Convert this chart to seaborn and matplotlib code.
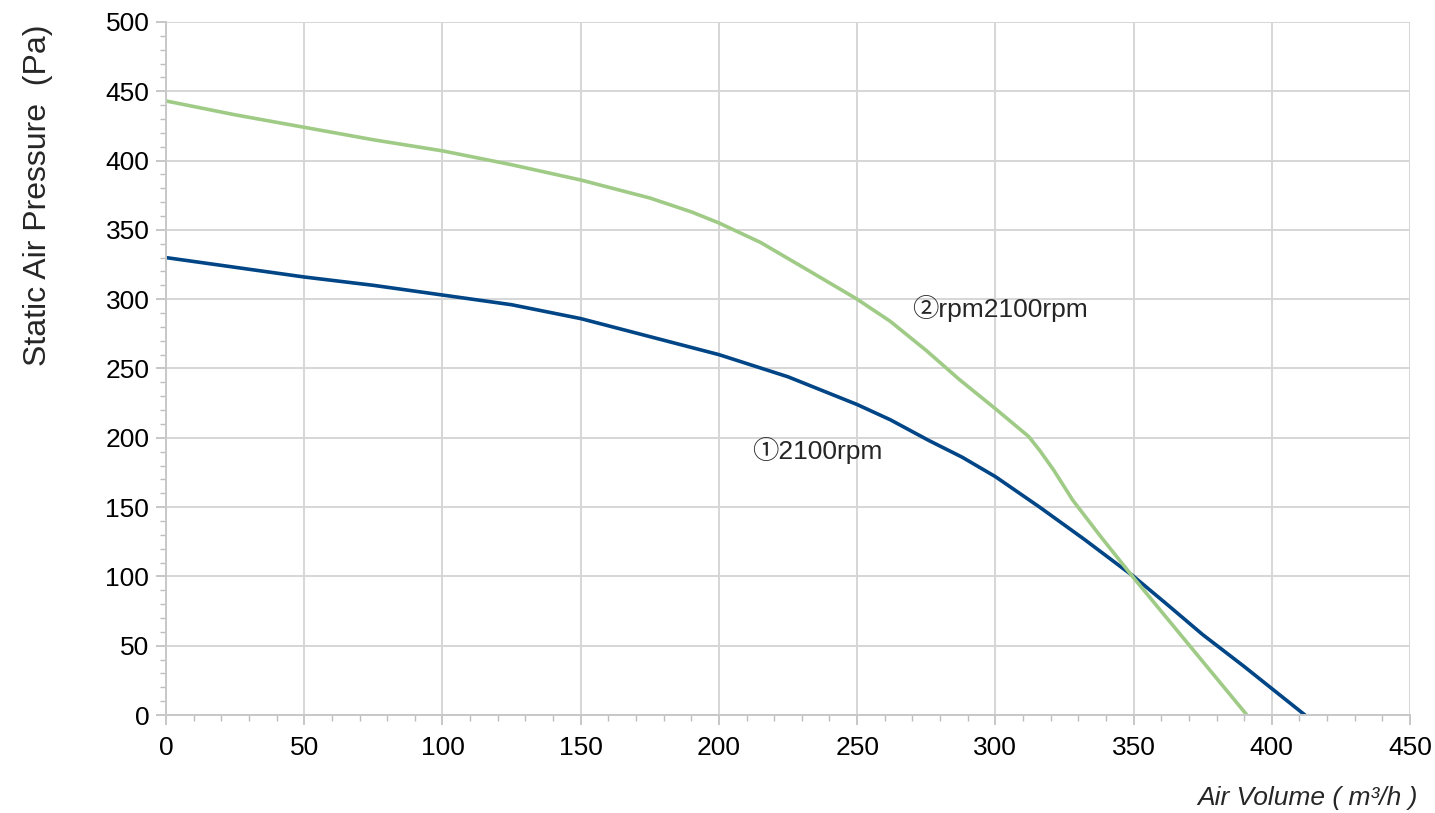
import pandas as pd
import matplotlib.pyplot as plt
from matplotlib.ticker import MultipleLocator
import seaborn as sns

# curve values
air_volume_1 = [0, 25, 50, 75, 100, 125, 150, 175, 200, 225, 250, 262, 276, 288,
                300, 316, 332, 350, 362, 375, 390, 412]
pressure_1 = [330, 323, 316, 310, 303, 296, 286, 273, 260, 244, 224, 213, 198, 186,
              172, 150, 127, 100, 80, 58, 35, 0]

air_volume_2 = [0, 25, 50, 75, 100, 125, 150, 175, 190, 200, 215, 233, 250, 262, 275, 287,
                300, 312, 316, 321, 328, 338, 350, 391]
pressure_2 = [443, 433, 424, 415, 407, 397, 386, 373, 363, 355, 341, 320, 300, 284, 263, 242,
              221, 201, 191, 177, 155, 129, 99, 0]

series_labels = ["①2100rpm", "②rpm2100rpm"]
line_colors = ["#004586", "#9fcb86"]

df = pd.concat([
    pd.DataFrame({"AirVolume": air_volume_1, "Pressure": pressure_1, "Series": series_labels[0]}),
    pd.DataFrame({"AirVolume": air_volume_2, "Pressure": pressure_2, "Series": series_labels[1]}),
])

sns.set_style("white")
plt.rcParams['font.family'] = ['Liberation Sans', 'Noto Sans CJK JP', 'DejaVu Sans']

fig = plt.figure(figsize=(14.35, 8.13), dpi=100)
ax = fig.add_axes([0.1157, 0.1205, 0.8669, 0.8525])

sns.lineplot(data=df, x="AirVolume", y="Pressure", hue="Series", palette=line_colors,
             linewidth=2.6, legend=False, ax=ax, sort=False)

# axes format
ax.set_xlim(0, 450)
ax.set_ylim(0, 500)
ax.xaxis.set_major_locator(MultipleLocator(50))
ax.yaxis.set_major_locator(MultipleLocator(50))
ax.xaxis.set_minor_locator(MultipleLocator(10))
ax.yaxis.set_minor_locator(MultipleLocator(10))
ax.grid(which="major", color="#d6d6d6", linewidth=1.4)
ax.set_axisbelow(True)
for side in ["top", "right"]:
    ax.spines[side].set_visible(False)
for side in ["left", "bottom"]:
    ax.spines[side].set_color("#c8c8c8")
    ax.spines[side].set_linewidth(1.4)
ax.tick_params(which="both", bottom=True, left=True, direction="out", color="#bdbdbd")
ax.tick_params(which="major", length=7, width=1.2, labelsize=19, labelcolor="black", pad=5)
ax.tick_params(which="minor", length=4.5, width=1.0)
ax.tick_params(axis="x", which="major", pad=8)
ax.set_xlabel("")
ax.set_ylabel("")

# curve labels
ax.text(212, 190.5, series_labels[0], fontsize=19, va="center", ha="left")
ax.text(270, 293.6, series_labels[1], fontsize=19, va="center", ha="left")

fig.text(38 / 1435, 1 - 195 / 813, "Static Air Pressure  (Pa)", rotation=90, fontsize=23,
         va="center", ha="center")
fig.text(1418 / 1435, 1 - 798 / 813, "Air Volume ( m³/h )", fontsize=19, style="italic",
         va="center", ha="right")

fig.savefig("out.png", dpi=100)
